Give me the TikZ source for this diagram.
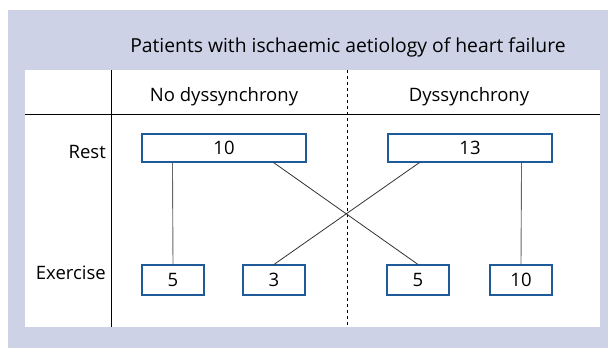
\documentclass[tikz,border=0pt]{standalone}
\usepackage{fontspec}
\setmainfont{Open Sans}
\definecolor{lav}{HTML}{CDD2E6}
\definecolor{boxblue}{HTML}{1F5A9A}
\definecolor{ln}{HTML}{333333}
\definecolor{lnv}{HTML}{666666}
\begin{document}
\begin{tikzpicture}[x=1pt,y=-1pt,
  valbox/.style={draw=boxblue,line width=1.1pt,fill=white,inner sep=0pt,font=\fontsize{18.5}{22}\selectfont},
  lbl/.style={font=\fontsize{18.5}{22}\selectfont,inner sep=0pt},
  conn/.style={draw=ln,line width=0.8pt},
  vconn/.style={draw=lnv,line width=0.9pt}]
\useasboundingbox (0,0) rectangle (608,350);
\fill[white] (0,0) rectangle (608,350);
\fill[lav] (8,10) rectangle (608,348);
\fill[white] (25,70) rectangle (600,327);
\node[lbl,font=\fontsize{19.3}{23}\selectfont] (title) at (348,47) {Patients with ischaemic aetiology of heart failure};
\draw[line width=1pt] (111,70) -- (111,327);
\draw[line width=1pt] (25,115) -- (600,115);
\draw[dashed,line width=0.8pt] (347,70) -- (347,327);
\node[lbl] (h1) at (224,97) {No dyssynchrony};
\node[lbl] (h2) at (469,97) {Dyssynchrony};
\node[lbl,anchor=east] (rest) at (106,152) {Rest};
\node[lbl,anchor=east] (ex) at (106,273) {Exercise};
\node[valbox,minimum width=164pt,minimum height=28pt] (r1) at (224,148) {10};
\node[valbox,minimum width=164pt,minimum height=28pt] (r2) at (470,148) {13};
\node[valbox,minimum width=62pt,minimum height=30pt] (e1) at (173,280) {5};
\node[valbox,minimum width=62pt,minimum height=30pt] (e2) at (274,280) {3};
\node[valbox,minimum width=62pt,minimum height=30pt] (e3) at (418,280) {5};
\node[valbox,minimum width=62pt,minimum height=30pt] (e4) at (521,280) {10};
\path (r1.south west) ++(31,0) coordinate (a1);
\draw[vconn] (a1) -- (e1.north);
\path (r1.south east) ++(-33,0) coordinate (a2);
\draw[conn] (a2) -- (e3.north);
\path (r2.south west) ++(32,0) coordinate (b1);
\draw[conn] (b1) -- (e2.north);
\path (r2.south east) ++(-31,0) coordinate (b2);
\draw[vconn] (b2) -- (e4.north);
\end{tikzpicture}
\end{document}
